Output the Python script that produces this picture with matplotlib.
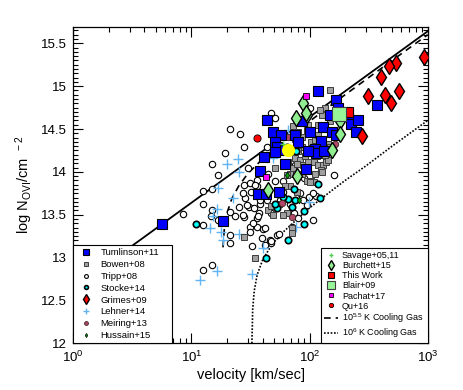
import matplotlib
matplotlib.use('Agg')
import matplotlib.pyplot as plt
from matplotlib.ticker import MultipleLocator, FuncFormatter, LogLocator, NullFormatter

plt.rcParams['font.family'] = ['Liberation Sans', 'DejaVu Sans']
plt.rcParams['mathtext.fontset'] = 'custom'
plt.rcParams['mathtext.rm'] = 'Liberation Sans'
plt.rcParams['mathtext.it'] = 'Liberation Sans:italic'
plt.rcParams['mathtext.bf'] = 'Liberation Sans:bold'

# ---------------- data (velocity km/s, log N_OVI) ----------------
tum_v = [5.67, 18.6, 44, 49.4, 57.4, 51.3, 53.5, 62, 41.5, 62, 38.1, 36.4, 42.6, 55.4, 74.6, 86, 101,
         118, 129.5, 125, 110.5, 114, 133, 96.5, 93, 154, 167.5, 172.5, 150, 169, 213, 225, 259, 246,
         369, 50.8, 80]
tum_n = [13.39, 13.43, 14.60, 14.46, 14.43, 14.35, 14.29, 14.26, 14.17, 14.09, 14.01, 13.74, 13.74,
         13.76, 14.43, 14.59, 14.46, 14.94, 14.52, 14.36, 14.27, 14.22, 14.24, 14.24, 14.03, 14.46,
         14.84, 14.74, 14.66, 14.43, 14.68, 14.56, 14.61, 14.46, 14.78, 14.23, 14.35]

bow_v = [149, 135, 127, 73, 75.5, 87, 86, 74, 75.5, 83, 88.5, 97.5, 108, 118.5, 131, 138, 102, 66,
         68.3, 73, 77.8, 50.8, 94.6, 102, 110, 88.5, 97.5, 101, 44.8, 49.4, 64, 60, 71, 71, 27.8,
         34.4, 47, 55.3, 80, 91, 115, 111, 118.5, 131, 143, 124, 143, 149, 68.3, 62, 64, 86, 52.7,
         77.8, 111, 127, 135, 122.6, 118.5, 149, 94.6, 80]
bow_n = [14.95, 14.74, 14.66, 14.53, 14.38, 14.41, 14.29, 14.24, 14.16, 14.14, 14.08, 14.12, 14.11,
         14.08, 14.08, 14.11, 14.35, 14.12, 13.98, 14.04, 14.09, 14.04, 13.89, 13.89, 13.88, 14.59,
         14.55, 13.88, 13.55, 13.50, 13.52, 13.50, 13.35, 13.29, 13.24, 13.00, 13.60, 13.63, 14.24,
         14.18, 14.18, 14.37, 14.43, 14.37, 14.33, 14.02, 14.14, 14.29, 13.83, 13.83, 13.96, 13.98,
         13.79, 13.77, 13.98, 14.00, 14.20, 14.72, 14.55, 14.59, 14.49, 14.47]

tri_v = [8.43, 12.6, 14.9, 12.6, 14.9, 16.9, 19.2, 21.2, 25.8, 27.9, 14.9, 12.6, 16.9, 21.2, 21.2,
         21.0, 25.5, 23.4, 28.0, 12.6, 14.9, 32.4, 39.3, 46.9, 52.7, 35.6, 36.0, 40.5, 31.7, 28.5,
         30.8, 33.6, 35.6, 28.0, 30.3, 35.6, 44.0, 46.9, 51.0, 44.6, 38.0, 43.2, 47.6, 56.0, 59.8,
         51.0, 59.8, 68.8, 73.2, 83.5, 88.5, 107.8, 100.9, 162, 98, 113, 75.6, 90, 80.5, 70.8, 123,
         107.8, 37.5, 14.7, 31.3, 27.5, 41.9, 46.4, 31.3, 31.3, 54.8, 47.6, 33.4, 36.9, 29.4, 27.3,
         34.4, 38.1, 41.9, 94.6]
tri_n = [13.51, 13.78, 13.80, 13.63, 14.09, 13.96, 14.22, 14.50, 14.44, 14.29, 13.56, 13.38, 13.44,
         13.26, 13.17, 13.53, 13.59, 13.49, 13.47, 12.86, 12.91, 13.14, 13.23, 13.17, 13.26, 13.46,
         13.36, 13.33, 13.76, 13.69, 13.59, 13.58, 13.83, 13.85, 14.04, 13.91, 14.29, 14.69, 14.63,
         13.98, 13.63, 13.67, 13.52, 13.67, 13.77, 13.89, 13.89, 13.63, 13.52, 13.75, 13.67, 13.44,
         14.74, 13.96, 13.71, 13.72, 14.08, 13.93, 13.46, 13.36, 14.14, 13.75, 13.52, 13.49, 13.87,
         13.75, 13.15, 13.21, 13.36, 13.30, 13.27, 13.19, 13.40, 13.48, 13.61, 13.50, 13.85, 13.67,
         13.34, 13.61]

sto_v = [10.9, 42.5, 66, 90.4, 90.4, 71, 66, 53.4, 51, 74.3, 44.3, 122, 119, 77, 64, 78, 75.5, 59.8]
sto_n = [13.39, 13.00, 13.21, 13.39, 13.54, 13.59, 13.68, 13.58, 13.62, 13.80, 13.78, 13.69, 13.86,
         14.24, 14.29, 14.37, 13.67, 13.71]

gri_v = [931, 536, 475, 403, 315, 435, 573, 486, 280]
gri_n = [15.34, 15.27, 15.23, 15.11, 14.88, 14.90, 14.94, 14.80, 14.42]

leh_v = [11.7, 16.4, 32.7, 14.4, 17.7, 18.4, 25.4, 15.3, 16.6, 16.9, 19.9, 24.9, 25.3, 22.3, 40.5,
         48.6, 66, 98, 76.8]
leh_n = [12.74, 12.84, 12.81, 13.35, 13.30, 13.20, 13.28, 13.49, 13.57, 13.81, 14.09, 14.15, 14.00,
         13.69, 13.11, 14.16, 14.49, 13.65, 13.36]

mei_v = [66, 58.8, 71, 163]
mei_n = [14.41, 13.64, 13.47, 14.32]

hus_v = [65, 81]
hus_n = [13.96, 13.67]

sav_v = [60]
sav_n = [14.33]

bur_v = [88.7, 76.8, 94.5, 93, 181, 180, 154, 78, 44.6]
bur_n = [14.80, 14.63, 14.66, 14.69, 14.59, 14.44, 14.26, 13.95, 13.79]

tw_v = [210]
tw_n = [14.70]
bla_v = [176]
bla_n = [14.68]
pac_v = [92.5, 42.5]
pac_n = [14.88, 13.94]
qu_v = [36]
qu_n = [14.39]
yel_v = [65.3]
yel_n = [14.26]

# reference lines
fit_v = [1, 1000]
fit_n = [12.64, 15.64]
dash_v = [18.5, 19, 20, 22, 25, 30, 40, 60, 100, 200, 500, 1000]
dash_n = [13.12, 13.34, 13.52, 13.69, 13.83, 13.98, 14.15, 14.36, 14.59, 14.90, 15.30, 15.60]
dot_v = [32.5, 33, 34, 36, 40, 45, 50, 60, 80, 100, 150, 200, 300, 500, 1000]
dot_n = [12.0, 12.40, 12.61, 12.80, 12.97, 13.09, 13.18, 13.30, 13.46, 13.58, 13.77, 13.90, 14.07,
         14.30, 14.60]

# ---------------- figure ----------------
fig = plt.figure(figsize=(4.63, 3.9), dpi=100)
ax = fig.add_axes([0.1584, 0.1197, 0.7653, 0.8119])

ax.plot(fit_v, fit_n, color='k', lw=1.3, zorder=1)
l_dash, = ax.plot(dash_v, dash_n, color='k', lw=1.2, ls=(0, (4, 3)), zorder=1)
l_dot, = ax.plot(dot_v, dot_n, color='k', lw=1.2, ls=(0, (1, 1)), zorder=1)

def mk(v, n, **kw):
    h, = ax.plot(v, n, ls='none', **kw)
    return h

h_tri = mk(tri_v, tri_n, marker='o', ms=4.6, mfc='white', mec='k', mew=0.8, zorder=2)
h_leh = mk(leh_v, leh_n, marker='+', ms=7, mec='#62b4f2', mew=1.0, zorder=2.1)
h_bow = mk(bow_v, bow_n, marker='s', ms=3.8, mfc='#a0a0a0', mec='#3c3c3c', mew=0.7, zorder=2.2)
h_sto = mk(sto_v, sto_n, marker='o', ms=4.6, mfc='#00ffff', mec='k', mew=1.2, zorder=2.3)
h_mei = mk(mei_v, mei_n, marker='o', ms=4.6, mfc='#b04868', mec='#402020', mew=0.6, zorder=2.4)
h_hus = mk(hus_v, hus_n, marker='d', ms=3.5, mfc='#00a000', mec='k', mew=0.5, zorder=2.5)
h_tum = mk(tum_v, tum_n, marker='s', ms=6.5, mfc='#0000ff', mec='k', mew=0.8, zorder=2.6)
h_gri = mk(gri_v, gri_n, marker='d', ms=8.5, mfc='#ff0000', mec='k', mew=1.0, zorder=2.7)
h_bur = mk(bur_v, bur_n, marker='d', ms=8, mfc='#90ee90', mec='k', mew=1.0, zorder=2.8)
h_sav = mk(sav_v, sav_n, marker='+', ms=4, mec='#55cc55', mew=1.0, zorder=2.85)
h_tw = mk(tw_v, tw_n, marker='s', ms=6.5, mfc='#ff0000', mec='k', mew=0.8, zorder=2.9)
h_bla = mk(bla_v, bla_n, marker='s', ms=10, mfc='#98f598', mec='#404040', mew=0.8, zorder=3.0)
h_pac = mk(pac_v, pac_n, marker='s', ms=3.8, mfc='#ff00ff', mec='k', mew=0.6, zorder=3.1)
h_qu = mk(qu_v, qu_n, marker='o', ms=5.2, mfc='#ff0000', mec='k', mew=0.6, zorder=3.2)
mk(yel_v, yel_n, marker='o', ms=9.5, mfc='#ffff00', mec='#ffff00', mew=0, zorder=3.3)

ax.set_xscale('log')
ax.set_xlim(1, 1000)
ax.set_ylim(12, 15.694)

ax.yaxis.set_major_locator(MultipleLocator(0.5))
ax.yaxis.set_minor_locator(MultipleLocator(0.05))
ax.yaxis.set_major_formatter(FuncFormatter(lambda v, p: f'{v:g}'))
ax.xaxis.set_major_locator(LogLocator(base=10, numticks=10))
ax.xaxis.set_minor_locator(LogLocator(base=10, subs=range(2, 10), numticks=20))
ax.xaxis.set_minor_formatter(NullFormatter())

ax.tick_params(which='both', direction='in', top=True, right=True, width=0.8)
ax.tick_params(which='major', length=7, labelsize=9.5, pad=5)
ax.tick_params(which='minor', length=3.5)
for s in ax.spines.values():
    s.set_linewidth(0.9)

ax.set_xlabel('velocity [km/sec]', fontsize=10.5, labelpad=2)
ax.set_ylabel(r'log N$_{\rm OVI}$/cm$^{\ \ \rm -2}$', fontsize=10.5, labelpad=4)

leg_kw = dict(frameon=True, fancybox=False, edgecolor='k', framealpha=1,
              borderaxespad=0, markerscale=0.6, mode='expand', borderpad=0.35)

left_h = [h_tum, h_bow, h_tri, h_sto, h_gri, h_leh, h_mei, h_hus]
left_l = ['Tumlinson+11', 'Bowen+08', 'Tripp+08', 'Stocke+14', 'Grimes+09', 'Lehner+14',
          'Meiring+13', 'Hussain+15']
leg1 = ax.legend(left_h, left_l, loc='lower left', bbox_to_anchor=(0, 0, 0.2785, 0.32),
                 fontsize=6.8, handlelength=2.0, handletextpad=0.5, labelspacing=0.3, **leg_kw)
leg1.get_frame().set_linewidth(0.8)
ax.add_artist(leg1)

right_h = [h_sav, h_bur, h_tw, h_bla, h_pac, h_qu, l_dash, l_dot]
right_l = ['Savage+05,11', 'Burchett+15', 'This Work', 'Blair+09', 'Pachat+17', 'Qu+16',
           r'10$^{5.5}$ K Cooling Gas', r'10$^{6}$ K Cooling Gas']
leg2 = ax.legend(right_h, right_l, loc='lower right', bbox_to_anchor=(0.698, 0, 0.302, 0.305),
                 fontsize=6.5, handlelength=1.6, handletextpad=0.4, labelspacing=0.12,
                 borderaxespad=0, **{k: v for k, v in leg_kw.items() if k != 'borderaxespad'})
leg2.get_frame().set_linewidth(0.8)

fig.savefig('out.png', dpi=100)
